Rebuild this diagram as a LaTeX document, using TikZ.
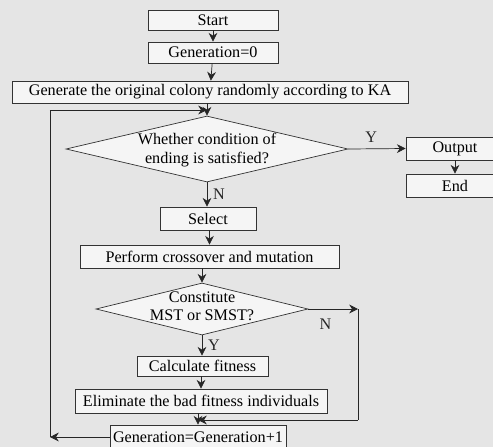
\documentclass[tikz,border=0pt]{standalone}
\usepackage{fontspec}
\setmainfont{Liberation Serif}
\usetikzlibrary{shapes.geometric,arrows.meta}

\begin{document}
\begin{tikzpicture}[
    font=\fontsize{9.2}{10}\selectfont,
    box/.style={draw=black!80, thin, fill=black!4, inner sep=0pt},
    decide/.style={draw=black!80, thin, fill=black!4, diamond, inner sep=0pt},
    flow/.style={thin, color=black!85, -{Stealth[length=5pt,width=5pt]}},
    line/.style={thin, color=black!85}
  ]
  \useasboundingbox [fill=black!10] (0,0) rectangle (9.86,-8.94);

  \node [box, minimum width=2.6cm, minimum height=0.4cm] (start) at (4.26,-0.40) {Start};
  \node [box, minimum width=2.6cm, minimum height=0.42cm] (gen0) at (4.26,-1.05) {Generation=0};
  \node [box, minimum width=7.92cm, minimum height=0.44cm] (init) at (4.2,-1.84) {Generate the original colony randomly according to KA};

  \node [decide, minimum width=5.64cm, minimum height=1.32cm] (ending) at (4.14,-2.98) {};
  \node [align=center] (endingtext) at (4.14,-3.0) {Whether condition of\\[1pt] ending is satisfied?};
  \node [box, minimum width=1.96cm, minimum height=0.46cm] (output) at (9.1,-2.97) {Output};
  \node [box, minimum width=1.96cm, minimum height=0.46cm] (end) at (9.1,-3.71) {End};

  \node [box, minimum width=1.92cm, minimum height=0.46cm] (select) at (4.16,-4.37) {Select};
  \node [box, minimum width=5.18cm, minimum height=0.46cm] (cross) at (4.19,-5.13) {Perform crossover and mutation};

  \node [decide, minimum width=4.24cm, minimum height=1.04cm] (mst) at (4.04,-6.18) {};
  \node [align=center] (msttext) at (4.04,-6.13) {Constitute\\ MST or SMST?};
  \node [box, minimum width=2.62cm, minimum height=0.4cm] (fit) at (4.05,-7.32) {Calculate fitness};
  \node [box, minimum width=5.04cm, minimum height=0.48cm] (elim) at (4.02,-8.02) {Eliminate the bad fitness individuals};
  \node [box, minimum width=3.52cm, minimum height=0.48cm] (next) at (3.96,-8.74) {Generation=Generation+1};

  \coordinate (loopB) at (1.0,-8.74);
  \coordinate (loopT) at (1.0,-2.2);
  \coordinate (nA) at (7.16,-6.18);
  \coordinate (nB) at (7.16,-8.4);

  \draw [flow] (start) -- (gen0);
  \draw [flow] (gen0) -- (init);
  \draw [flow] (init.south -| ending.north) -- (ending.north);
  \draw [flow] (ending.east) -- node [above, pos=0.4] (yes1) {Y} (output.west);
  \draw [flow] (output) -- (end);
  \draw [flow] (ending.south) -- node [right] (no1) {N} (select.north -| ending.south);
  \draw [flow] (select.south -| cross.north) -- (cross.north);
  \draw [flow] (cross.south -| mst.north) -- (mst.north);
  \draw [flow] (mst.south) -- node [right] (yes2) {Y} (fit.north -| mst.south);
  \draw [flow] (fit.south -| elim.north) -- (elim.north);
  \draw [flow] (elim.south -| next.north) -- (next.north);

  \draw [flow] (mst.east) -- node [below right, pos=0.1, yshift=-2pt] (no2) {N} (nA);
  \draw [line] (nA) -- (nB);
  \draw [flow] (nB) -- (nB -| next.north);

  \draw [flow] (next.west) -- (loopB);
  \draw [line] (loopB) -- (loopT);
  \draw [flow] (loopT) -- (loopT -| ending.north);

\end{tikzpicture}
\end{document}
